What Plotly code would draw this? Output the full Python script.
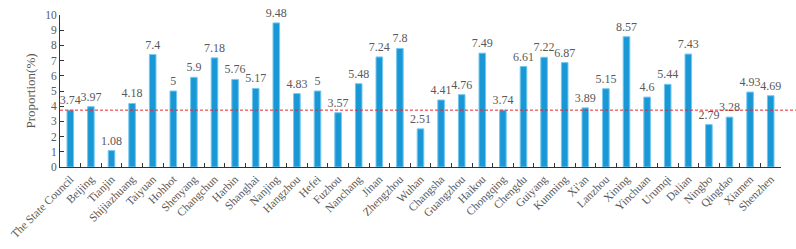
import plotly.graph_objects as go

cities = ["The State Council", "Beijing", "Tianjin", "Shijiazhuang", "Taiyuan", "Hohhot",
          "Shenyang", "Changchun", "Harbin", "Shanghai", "Nanjing", "Hangzhou", "Hefei",
          "Fuzhou", "Nanchang", "Jinan", "Zhengzhou", "Wuhan", "Changsha", "Guangzhou",
          "Haikou", "Chongqing", "Chengdu", "Guiyang", "Kunming", "Xi'an", "Lanzhou",
          "Xining", "Yinchuan", "Urumqi", "Dalian", "Ningbo", "Qingdao", "Xiamen", "Shenzhen"]
values = [3.74, 3.97, 1.08, 4.18, 7.4, 5, 5.9, 7.18, 5.76, 5.17, 9.48, 4.83, 5,
          3.57, 5.48, 7.24, 7.8, 2.51, 4.41, 4.76, 7.49, 3.74, 6.61, 7.22, 6.87,
          3.89, 5.15, 8.57, 4.6, 5.44, 7.43, 2.79, 3.28, 4.93, 4.69]
reference_value = 3.74
y_ticks = list(range(0, 11))

FONT = "Liberation Serif, Times New Roman, serif"
GRAY = "#595959"

fig = go.Figure()
fig.add_trace(go.Bar(
    x=cities, y=values,
    marker=dict(color="#1a98d5", line=dict(color="#74c8f0", width=1)),
    width=0.32,
    text=[f"{v:g}" for v in values],
    textposition="outside",
    constraintext="none",
    textfont=dict(family=FONT, size=12, color=GRAY),
    cliponaxis=False,
))

fig.add_shape(type="line", xref="paper", yref="y",
              x0=0, x1=1.022, y0=reference_value, y1=reference_value,
              line=dict(color="#e8262a", width=1, dash="3px,2px"))

fig.update_layout(
    width=796, height=249,
    margin=dict(l=47.5, r=15.3, t=9, b=69),
    paper_bgcolor="white", plot_bgcolor="white",
    showlegend=False,
    font=dict(family=FONT, color=GRAY),
)
fig.update_xaxes(
    showline=True, linecolor="#333333", linewidth=1,
    ticks="inside", ticklen=4, tickcolor="#333333", tickson="boundaries",
    tickangle=-45, tickfont=dict(family=FONT, size=11.5, color=GRAY),
    showgrid=False, zeroline=False,
)
fig.update_yaxes(
    range=[0, 10], tickvals=y_ticks,
    showline=True, linecolor="#333333", linewidth=1,
    ticks="inside", ticklen=4, tickcolor="#333333",
    tickfont=dict(family=FONT, size=11.5, color=GRAY),
    showgrid=False, zeroline=False,
    title=dict(text="Proportion(%)", font=dict(family=FONT, size=13, color=GRAY), standoff=6),
)

fig.write_html("out.html")
